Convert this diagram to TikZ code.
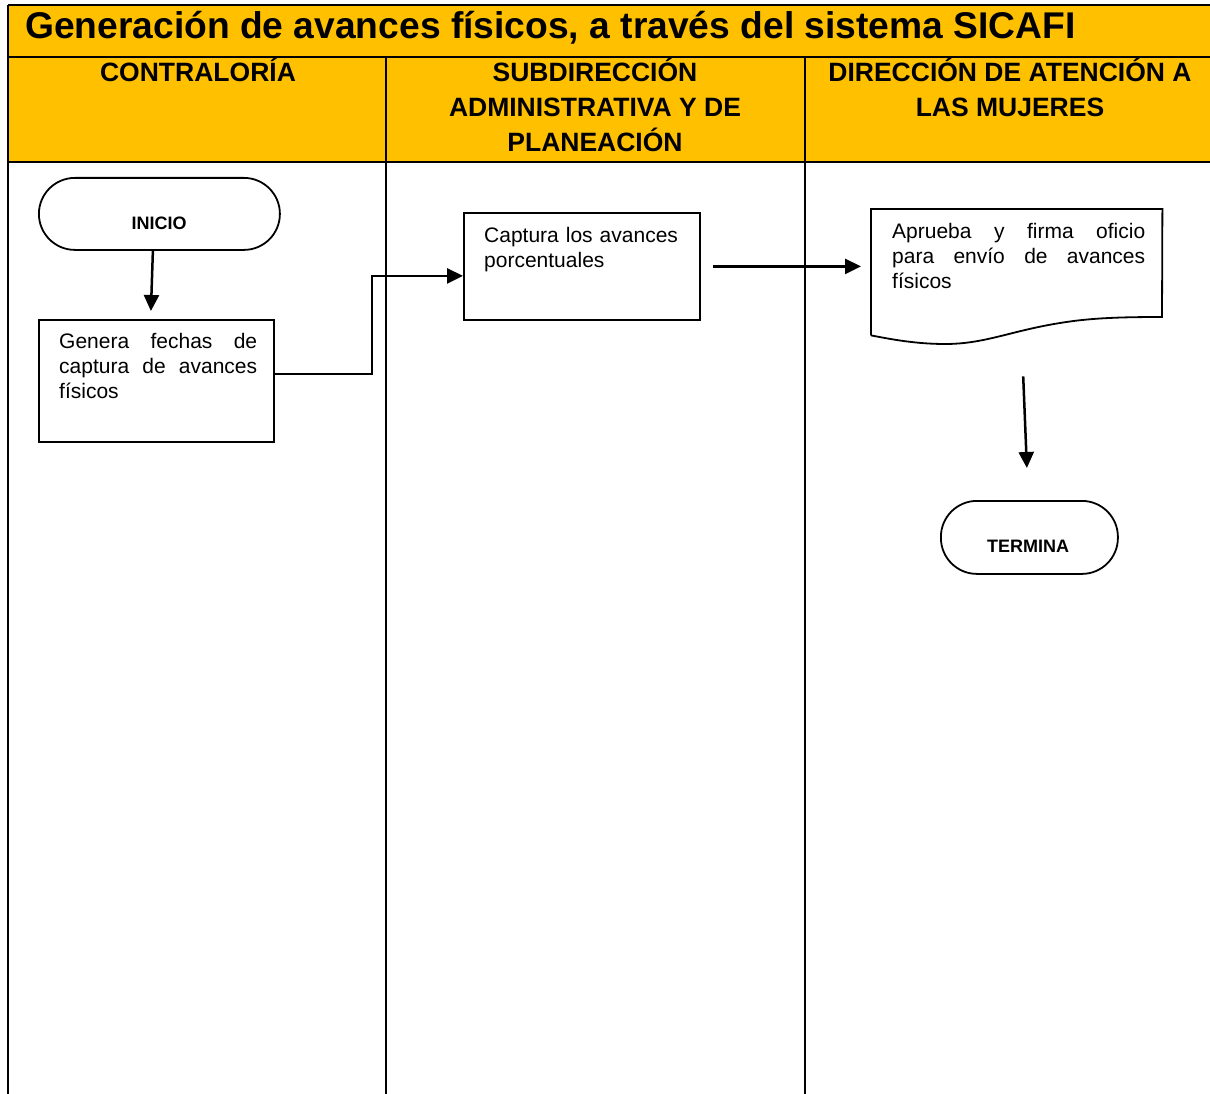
\documentclass[tikz,border=0pt]{standalone}
\usepackage{fontspec}
\setmainfont{Liberation Sans}
\usetikzlibrary{arrows.meta}
\definecolor{hdryellow}{HTML}{FFC000}
\hyphenpenalty=10000\relax
\begin{document}
\begin{tikzpicture}[x=1pt,y=-1pt,
  grid/.style={line width=2.5pt},
  shapeline/.style={line width=1.8pt},
  box/.style={draw, shapeline, rectangle, inner sep=0pt, anchor=north west},
  term/.style={draw, shapeline, rectangle, rounded corners=36pt, inner sep=0pt, anchor=north west},
  body/.style={anchor=north west, inner sep=0pt, font=\fontsize{21}{25}\selectfont},
  hdr/.style={anchor=north, inner sep=0pt, font=\fontsize{26.5}{35}\selectfont\bfseries, align=center},
  termtxt/.style={inner sep=0pt, font=\fontsize{18}{22}\selectfont\bfseries},
  arr/.style={line width=2.5pt, -{Triangle[length=16pt,width=15pt]}},
]
\useasboundingbox (0,0) rectangle (1210,1094);
% header band
\fill[hdryellow] (8,5) rectangle (1210,162);
\draw[grid] (8,5) -- (1210,5);
\draw[grid] (8,57) -- (1210,57);
\draw[grid] (8,162) -- (1210,162);
\draw[grid] (8,5) -- (8,1094);
\draw[grid] (386,57) -- (386,1094);
\draw[grid] (805,57) -- (805,1094);
% title
\node[anchor=base west, inner sep=0pt, font=\fontsize{37.2}{40}\selectfont\bfseries] (title) at (25,39)
  {Generación de avances físicos, a través del sistema SICAFI};
% lane headers
\node[hdr] (h1) at (198,56) {\rule{0pt}{25pt}CONTRALORÍA};
\node[hdr] (h2) at (595,56) {\rule{0pt}{25pt}SUBDIRECCIÓN\\ADMINISTRATIVA Y DE\\PLANEACIÓN};
\node[hdr] (h3) at (1010,56) {\rule{0pt}{25pt}DIRECCIÓN DE ATENCIÓN A\\LAS MUJERES};
% shapes
\node[term, minimum width=241pt, minimum height=72pt] (inicio) at (38,177) {};
\node[termtxt] (inicioT) at (159,223) {INICIO};
\node[box, minimum width=235pt, minimum height=122pt] (genera) at (38,319) {};
\node[body, text width=198pt, align=justify] (generaT) at (59,332)
  {\rule{0pt}{16pt}Genera fechas de\linebreak captura de avances\linebreak físicos};
\node[box, minimum width=236pt, minimum height=107pt] (captura) at (463,212) {};
\node[body, text width=215pt, align=left] (capturaT) at (484,226)
  {\rule{0pt}{16pt}Captura los avances\\porcentuales};
\node[anchor=north west, inner sep=0pt, minimum width=291pt, minimum height=126pt] (doc) at (871,209) {};
\draw[shapeline] (doc.south west) -- (doc.north west) -- (doc.north east) -- (1162,317)
  .. controls (1120,317) and (1090,318) .. (1060,323)
  .. controls (1010,331) and (985,344) .. (945,344)
  .. controls (915,344) and (890,339) .. (doc.south west);
\node[body, text width=253pt, align=justify] (docT) at (892,222)
  {\rule{0pt}{16pt}Aprueba y firma oficio\linebreak para envío de avances\linebreak físicos};
\node[term, minimum width=177pt, minimum height=73pt] (termina) at (940,500) {};
\node[termtxt] (terminaT) at (1028,546) {TERMINA};
% connectors
\draw[arr] ([xshift=-6.5pt]inicio.south) -- ([xshift=-5.5pt,yshift=8pt]genera.north);
\draw[arr] ([yshift=7pt]genera.east) -- ++(97,0) |- ([yshift=-9.5pt]captura.west);
\draw[arr] ([xshift=12pt]captura.east) coordinate (c1) -- ([xshift=-10pt]c1 -| doc.west);
\draw[arr] ([xshift=6.5pt,yshift=-41pt]doc.south) -- ([xshift=-2.5pt,yshift=32pt]termina.north);
\end{tikzpicture}
\end{document}
